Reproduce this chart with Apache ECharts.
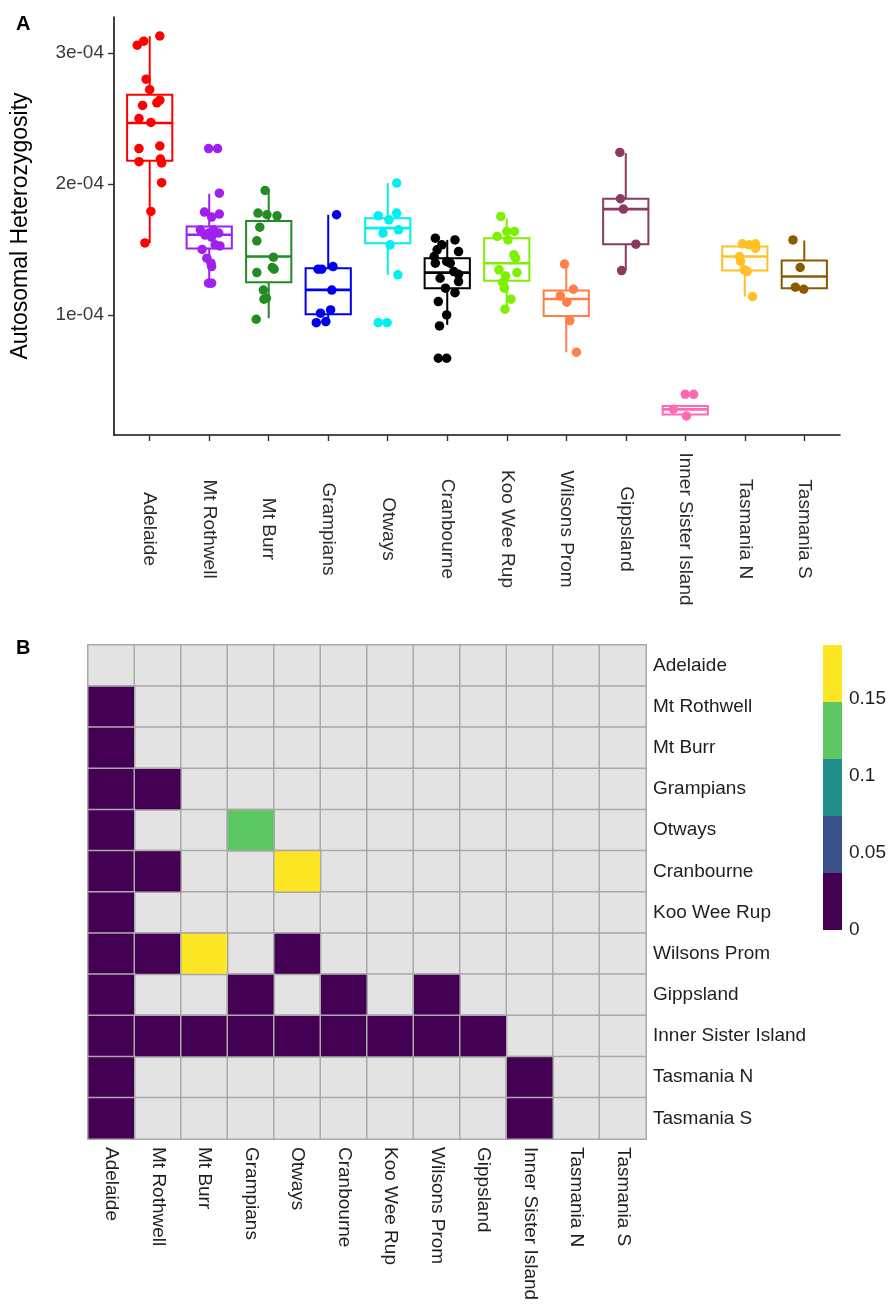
<!DOCTYPE html>
<html><head><meta charset="utf-8">
<script src="https://cdn.jsdelivr.net/npm/echarts@6/dist/echarts.min.js"></script>
<style>html,body{margin:0;padding:0;background:#fff}#c{width:889px;height:1305px}</style>
</head><body><div id="c"></div>
<script>
const populations = ['Adelaide','Mt Rothwell','Mt Burr','Grampians','Otways','Cranbourne','Koo Wee Rup','Wilsons Prom','Gippsland','Inner Sister Island','Tasmania N','Tasmania S'];
const groupColors = ['#FF0000','#A020F0','#228B22','#0000EE','#00F0F0','#000000','#7CF000','#FF7F48','#8B3A62','#FF69B4','#FFC125','#8B5A00'];
const yTicks = [1e-4, 2e-4, 3e-4];
const yTickLabels = ['1e-04', '2e-04', '3e-04'];
// box stats: [whisker low, Q1, median, Q3, whisker high]
const boxStats = [
  [1.548e-4, 2.177e-4, 2.466e-4, 2.682e-4, 3.128e-4],
  [1.255e-4, 1.507e-4, 1.612e-4, 1.675e-4, 1.925e-4],
  [0.975e-4, 1.250e-4, 1.446e-4, 1.718e-4, 1.950e-4],
  [0.943e-4, 1.005e-4, 1.191e-4, 1.357e-4, 1.765e-4],
  [1.306e-4, 1.548e-4, 1.663e-4, 1.739e-4, 2.007e-4],
  [0.924e-4, 1.204e-4, 1.323e-4, 1.433e-4, 1.573e-4],
  [1.051e-4, 1.260e-4, 1.395e-4, 1.586e-4, 1.739e-4],
  [0.715e-4, 0.992e-4, 1.122e-4, 1.186e-4, 1.388e-4],
  [1.339e-4, 1.540e-4, 1.808e-4, 1.887e-4, 2.236e-4],
  [0.240e-4, 0.240e-4, 0.279e-4, 0.304e-4, 0.304e-4],
  [1.140e-4, 1.339e-4, 1.446e-4, 1.522e-4, 1.553e-4],
  [1.204e-4, 1.204e-4, 1.293e-4, 1.415e-4, 1.568e-4]
];
// individual points: [jitter offset, heterozygosity]
const ptsAdelaide = [[-0.21,3.06e-4],[-0.10,3.09e-4],[0.17,3.13e-4],[-0.06,2.80e-4],[0.00,2.72e-4],[-0.12,2.60e-4],[0.12,2.62e-4],[0.17,2.64e-4],[-0.18,2.50e-4],[0.02,2.47e-4],[-0.18,2.27e-4],[0.17,2.29e-4],[-0.18,2.17e-4],[0.18,2.19e-4],[0.20,2.16e-4],[0.20,2.01e-4],[0.02,1.79e-4],[-0.08,1.55e-4]];
const ptsMtRothwell = [[-0.01,2.27e-4],[0.14,2.27e-4],[0.17,1.93e-4],[-0.08,1.785e-4],[0.04,1.747e-4],[0.17,1.77e-4],[-0.15,1.65e-4],[-0.01,1.625e-4],[0.07,1.65e-4],[0.16,1.625e-4],[-0.07,1.61e-4],[0.04,1.594e-4],[0.10,1.535e-4],[0.18,1.527e-4],[-0.12,1.50e-4],[-0.04,1.433e-4],[0.03,1.395e-4],[0.04,1.369e-4],[-0.01,1.242e-4],[0.04,1.242e-4]];
const ptsMtBurr = [[-0.06,1.95e-4],[-0.18,1.778e-4],[-0.03,1.765e-4],[0.14,1.757e-4],[-0.15,1.67e-4],[-0.20,1.566e-4],[0.08,1.441e-4],[-0.20,1.323e-4],[0.06,1.362e-4],[0.09,1.349e-4],[-0.09,1.19e-4],[-0.08,1.12e-4],[-0.04,1.128e-4],[-0.21,0.967e-4]];
const ptsGrampians = [[0.14,1.765e-4],[-0.17,1.349e-4],[-0.11,1.349e-4],[0.08,1.369e-4],[0.06,1.19e-4],[-0.13,1.013e-4],[0.04,1.038e-4],[-0.20,0.941e-4],[-0.04,0.949e-4]];
const ptsOtways = [[0.15,2.007e-4],[-0.16,1.757e-4],[0.02,1.726e-4],[0.15,1.778e-4],[-0.08,1.625e-4],[0.18,1.65e-4],[0.04,1.535e-4],[0.17,1.306e-4],[-0.16,0.941e-4],[-0.01,0.941e-4]];
const ptsCranbourne = [[-0.20,1.586e-4],[0.13,1.573e-4],[-0.09,1.535e-4],[-0.17,1.497e-4],[0.19,1.484e-4],[-0.22,1.446e-4],[-0.20,1.395e-4],[-0.01,1.408e-4],[0.05,1.395e-4],[0.11,1.331e-4],[0.19,1.31e-4],[-0.12,1.28e-4],[0.19,1.255e-4],[-0.03,1.204e-4],[0.13,1.17e-4],[-0.15,1.102e-4],[-0.01,1.0e-4],[-0.13,0.916e-4],[-0.15,0.669e-4],[-0.01,0.669e-4]];
const ptsKooWeeRup = [[-0.10,1.752e-4],[0.00,1.637e-4],[0.13,1.637e-4],[-0.16,1.599e-4],[0.02,1.573e-4],[0.12,1.459e-4],[0.15,1.433e-4],[-0.13,1.344e-4],[0.17,1.323e-4],[-0.02,1.298e-4],[-0.07,1.247e-4],[-0.04,1.204e-4],[0.07,1.12e-4],[-0.03,1.044e-4]];
const ptsWilsonsProm = [[-0.03,1.388e-4],[0.12,1.196e-4],[-0.10,1.145e-4],[0.01,1.097e-4],[0.06,0.956e-4],[0.17,0.715e-4]];
const ptsGippsland = [[-0.10,2.241e-4],[-0.09,1.887e-4],[-0.04,1.808e-4],[0.17,1.54e-4],[-0.07,1.339e-4]];
const ptsInnerSister = [[0.00,0.394e-4],[0.14,0.394e-4],[0.02,0.228e-4],[-0.20,0.28e-4]];
const ptsTasmaniaN = [[-0.04,1.543e-4],[0.07,1.535e-4],[0.18,1.543e-4],[0.18,1.51e-4],[-0.09,1.446e-4],[-0.07,1.408e-4],[-0.01,1.344e-4],[0.04,1.331e-4],[0.13,1.14e-4]];
const ptsTasmaniaS = [[-0.19,1.573e-4],[-0.07,1.362e-4],[-0.15,1.212e-4],[-0.01,1.196e-4]];
const groupPoints = [ptsAdelaide, ptsMtRothwell, ptsMtBurr, ptsGrampians, ptsOtways, ptsCranbourne, ptsKooWeeRup, ptsWilsonsProm, ptsGippsland, ptsInnerSister, ptsTasmaniaN, ptsTasmaniaS];

// heatmap cells with a value: [row, col, value]; all others are NA (grey)
const heatCells = [
  [1,0,0],[2,0,0],[3,0,0],[3,1,0],[4,0,0],[4,3,0.13],
  [5,0,0],[5,1,0],[5,4,0.17],[6,0,0],
  [7,0,0],[7,1,0],[7,2,0.18],[7,4,0],
  [8,0,0],[8,3,0],[8,5,0],[8,7,0],
  [9,0,0],[9,1,0],[9,2,0],[9,3,0],[9,4,0],[9,5,0],[9,6,0],[9,7,0],[9,8,0],
  [10,0,0],[10,9,0],[11,0,0],[11,9,0]
];
const binEdges = [0, 0.037, 0.074, 0.111, 0.148, 0.185];
const binColors = ['#440154', '#3B528B', '#21908C', '#5DC863', '#FDE725'];
const legendTicks = [0, 0.05, 0.1, 0.15];

const FONT = "'Liberation Sans', Arial, Helvetica, sans-serif";
const chart = echarts.init(document.getElementById('c'), null, {renderer: 'canvas'});
const catIdx = populations.map((_, i) => i + 1);
const BOX_HALF = 0.38;

const series = [];
series.push({
  type: 'custom', xAxisIndex: 0, yAxisIndex: 0, z: 2,
  data: boxStats.map((s, i) => [i + 1].concat(s)),
  encode: {x: 0, y: [1, 2, 3, 4, 5]},
  renderItem: function (params, api) {
    const x = api.value(0), lo = api.value(1), q1 = api.value(2), med = api.value(3), q3 = api.value(4), hi = api.value(5);
    const c = groupColors[params.dataIndex];
    const pHi = api.coord([x, hi]), pQ3 = api.coord([x, q3]), pQ1 = api.coord([x, q1]), pLo = api.coord([x, lo]);
    const l = api.coord([x - BOX_HALF, med]), r = api.coord([x + BOX_HALF, med]);
    const st = {stroke: c, lineWidth: 2, fill: null};
    return {type: 'group', children: [
      {type: 'line', shape: {x1: pHi[0], y1: pHi[1], x2: pQ3[0], y2: pQ3[1]}, style: st},
      {type: 'line', shape: {x1: pQ1[0], y1: pQ1[1], x2: pLo[0], y2: pLo[1]}, style: st},
      {type: 'rect', shape: {x: l[0], y: pQ3[1], width: r[0] - l[0], height: pQ1[1] - pQ3[1]}, style: {stroke: c, lineWidth: 2, fill: 'rgba(255,255,255,0)'}},
      {type: 'line', shape: {x1: l[0], y1: l[1], x2: r[0], y2: r[1]}, style: {stroke: c, lineWidth: 2.6}}
    ]};
  }
});
groupPoints.forEach((pts, g) => {
  series.push({
    type: 'scatter', xAxisIndex: 0, yAxisIndex: 0, z: 3,
    symbolSize: 9.5,
    itemStyle: {color: groupColors[g], opacity: 1},
    data: pts.map(p => [g + 1 + p[0], p[1]])
  });
});
// heatmap background (NA cells)
const allCells = [];
for (let r = 0; r < populations.length; r++) for (let c = 0; c < populations.length; c++) allCells.push([c, r, 0]);
series.push({
  type: 'heatmap', xAxisIndex: 1, yAxisIndex: 1, z: 2,
  data: allCells,
  itemStyle: {color: '#E3E3E3', borderColor: '#A9A9A9', borderWidth: 1.5},
  emphasis: {disabled: true}
});
const heatSeriesIndex = series.length;
series.push({
  type: 'heatmap', xAxisIndex: 1, yAxisIndex: 1, z: 3,
  data: heatCells.map(d => [d[1], d[0], d[2]]),
  itemStyle: {borderColor: '#A9A9A9', borderWidth: 1.5},
  emphasis: {disabled: true}
});
// legend colour steps
series.push({
  type: 'custom', xAxisIndex: 2, yAxisIndex: 2,
  data: binColors.map((c, i) => [binEdges[i], binEdges[i + 1], i]),
  encode: {y: [0, 1]},
  renderItem: function (params, api) {
    const a = api.coord([0, api.value(1)]), b = api.coord([1, api.value(0)]);
    return {type: 'rect', shape: {x: a[0], y: a[1], width: b[0] - a[0], height: b[1] - a[1]}, style: {fill: binColors[api.value(2)]}};
  }
});

const option = {
  backgroundColor: '#fff',
  animation: false,
  textStyle: {fontFamily: FONT},
  title: [
    {text: 'A', left: 11, top: 9, textStyle: {fontFamily: FONT, fontWeight: 'bold', fontSize: 20, color: '#000'}},
    {text: 'B', left: 11, top: 633, textStyle: {fontFamily: FONT, fontWeight: 'bold', fontSize: 20, color: '#000'}}
  ],
  grid: [
    {left: 114, top: 17, width: 726, height: 418},
    {left: 88, top: 645, width: 558, height: 494},
    {left: 823, top: 645, width: 20, height: 285}
  ],
  visualMap: [{
    type: 'piecewise', show: false, seriesIndex: heatSeriesIndex, dimension: 2,
    pieces: binColors.map((c, i) => (i === binColors.length - 1 ? {gte: binEdges[i], lte: binEdges[i + 1], color: c} : {gte: binEdges[i], lt: binEdges[i + 1], color: c}))
  }],
  xAxis: [
    {type: 'value', gridIndex: 0, min: 0.4, max: 12.6,
      axisLine: {show: true, lineStyle: {color: '#111', width: 1.6}},
      axisTick: {show: true, customValues: catIdx, length: 6, lineStyle: {color: '#333', width: 1.4}},
      axisLabel: {show: true, customValues: catIdx, formatter: v => populations[Math.round(v) - 1] || '',
        rotate: -90, align: 'center', verticalAlign: 'middle', margin: 94, fontSize: 19, color: '#2B2B2B', fontFamily: FONT},
      splitLine: {show: false}},
    {type: 'category', gridIndex: 1, data: populations,
      axisLine: {show: false}, axisTick: {show: false}, splitLine: {show: false},
      axisLabel: {interval: 0, rotate: -90, align: 'left', verticalAlign: 'middle', margin: 8, fontSize: 19, color: '#1E1E1E', fontFamily: FONT}},
    {type: 'value', gridIndex: 2, min: 0, max: 1, show: false}
  ],
  yAxis: [
    {type: 'value', gridIndex: 0, min: 8.3e-6, max: 3.275e-4,
      name: 'Autosomal Heterozygosity', nameLocation: 'middle', nameGap: 82, nameRotate: 90,
      nameTextStyle: {fontSize: 23, color: '#000', fontFamily: FONT},
      axisLine: {show: true, lineStyle: {color: '#111', width: 1.6}},
      axisTick: {show: true, customValues: yTicks, length: 6, lineStyle: {color: '#333', width: 1.4}},
      axisLabel: {show: true, customValues: yTicks, formatter: v => yTickLabels[yTicks.findIndex(t => Math.abs(t - v) < 1e-9)] || '',
        margin: 10, fontSize: 19, color: '#3A3A3A', fontFamily: FONT},
      splitLine: {show: false}},
    {type: 'category', gridIndex: 1, data: populations, inverse: true, position: 'right',
      axisLine: {show: false}, axisTick: {show: false}, splitLine: {show: false},
      axisLabel: {interval: 0, margin: 7, align: 'left', fontSize: 19, color: '#1E1E1E', fontFamily: FONT}},
    {type: 'value', gridIndex: 2, min: 0, max: 0.185, position: 'right',
      axisLine: {show: false}, axisTick: {show: false}, splitLine: {show: false},
      axisLabel: {customValues: legendTicks, formatter: v => String(v), margin: 7, fontSize: 19, color: '#1E1E1E', fontFamily: FONT}}
  ],
  series: series
};
chart.setOption(option);
</script></body></html>
